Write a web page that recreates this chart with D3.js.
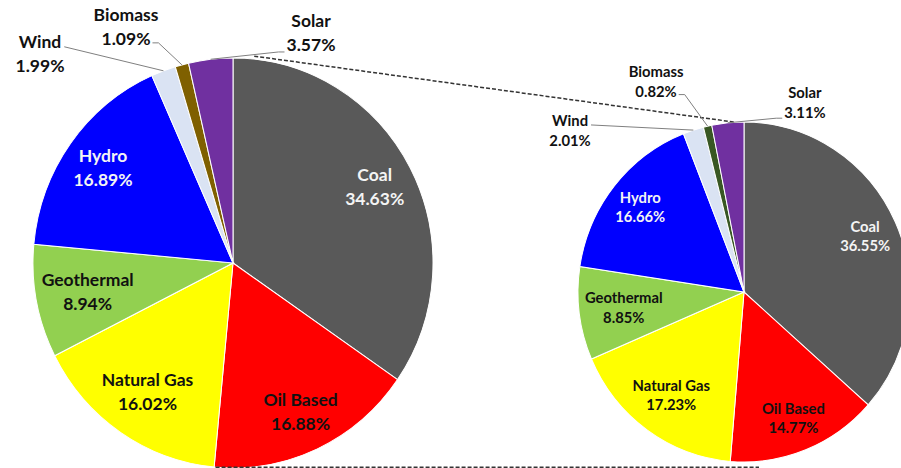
<!DOCTYPE html>
<html lang="en">
<head>
<meta charset="utf-8">
<title>Generation mix</title>
<style>
  body { margin: 0; background: #fff; }
  svg { display: block; font-family: Lato, "Open Sans", sans-serif; font-weight: 700; }
</style>
</head>
<body>
<svg id="chart" width="901" height="468"></svg>
<script src="https://cdnjs.cloudflare.com/ajax/libs/d3/7.8.5/d3.min.js"></script>
<script>
// data
const categories = ["Coal", "Oil Based", "Natural Gas", "Geothermal", "Hydro", "Wind", "Biomass", "Solar"];
const leftValues = [34.63, 16.88, 16.02, 8.94, 16.89, 1.99, 1.09, 3.57];
const rightValues = [36.55, 14.77, 17.23, 8.85, 16.66, 2.01, 0.82, 3.11];

const leftColors = ["#595959", "#ff0000", "#ffff00", "#92d050", "#0000ff", "#dae3f3", "#7f6000", "#7030a0"];
const rightColors = ["#595959", "#ff0000", "#ffff00", "#92d050", "#0000ff", "#dae3f3", "#385723", "#7030a0"];

const lightLabels = ["Coal", "Hydro"];
const leaderMode = {Wind: "right1", Biomass: "right2", Solar: "left2"};

// layout of the two pies
const pies = [
  {values: leftValues, colors: leftColors, cx: 233, cy: 263, rx: 200, ry: 205, font: 17.5, gap: 24,
   outside: {Wind: [-0.965, -1.02], Biomass: [-0.535, -1.151], Solar: [0.39, -1.122]}},
  {values: rightValues, colors: rightColors, cx: 744, cy: 292, rx: 166, ry: 170, font: 14.8, gap: 19.5,
   outside: {Wind: [-1.048, -0.947], Biomass: [-0.53, -1.235], Solar: [0.367, -1.112]}}
];

// dashed connectors: [left angle, left pad, right angle, right pad] (degrees)
const connectors = [[6, 3, -3, 0], [185, 0, 175, 6]];

const svg = d3.select("#chart");
const fmt = d3.format(".2f");
const pieGen = d3.pie().sort(null).value(d => d.value);

function edgePoint(p, a, pad) {
  return [p.cx + (p.rx + pad) * Math.sin(a), p.cy - (p.ry + pad) * Math.cos(a)];
}

// slices
pies.forEach(p => {
  p.data = categories.map((c, i) => ({name: c, value: p.values[i], color: p.colors[i]}));
  p.arcs = pieGen(p.data);
  const arc = d3.arc().innerRadius(0).outerRadius(p.rx);
  svg.append("g")
      .attr("transform", `translate(${p.cx},${p.cy}) scale(1,${p.ry / p.rx})`)
    .selectAll("path")
    .data(p.arcs)
    .join("path")
      .attr("d", arc)
      .attr("fill", d => d.data.color)
      .attr("stroke", "#fff")
      .attr("stroke-width", 1);
});

// dashed lines between the pies
const rad = Math.PI / 180;
connectors.forEach(c => {
  const a = edgePoint(pies[0], c[0] * rad, c[1]);
  const b = edgePoint(pies[1], c[2] * rad, c[3]);
  svg.append("line")
      .attr("x1", a[0]).attr("y1", a[1])
      .attr("x2", b[0]).attr("y2", b[1])
      .attr("stroke", "#333")
      .attr("stroke-width", 1.5)
      .attr("stroke-dasharray", "4,2");
});

const leaderLayer = svg.append("g");
const labelLayer = svg.append("g");

function fits(p, x, y, w, h) {
  const corners = [[x - w / 2, y - h / 2], [x + w / 2, y - h / 2], [x - w / 2, y + h / 2], [x + w / 2, y + h / 2]];
  return corners.every(([px, py]) => {
    const u = (px - p.cx) / (p.rx - 2), v = (py - p.cy) / (p.ry - 2);
    return u * u + v * v <= 1;
  });
}

// labels
pies.forEach(p => {
  p.arcs.forEach(d => {
    const name = d.data.name;
    const g = labelLayer.append("g")
        .attr("font-size", p.font)
        .attr("fill", lightLabels.includes(name) ? "#f4f4f4" : "#111")
        .attr("text-anchor", "middle");
    const t1 = g.append("text").attr("y", -p.gap / 2).attr("dy", "0.35em").text(name);
    const t2 = g.append("text").attr("y", p.gap / 2).attr("dy", "0.35em").text(fmt(d.data.value) + "%");
    const box = g.node().getBBox();
    const mid = (d.startAngle + d.endAngle) / 2;
    let x, y;
    if (p.outside[name]) {
      x = p.cx + p.outside[name][0] * p.rx;
      y = p.cy + p.outside[name][1] * p.ry;
    } else {
      let k = 0.81;
      do {
        x = p.cx + k * p.rx * Math.sin(mid);
        y = p.cy - k * p.ry * Math.cos(mid);
        k -= 0.01;
      } while (k > 0.4 && !fits(p, x, y, box.width, box.height));
    }
    g.attr("transform", `translate(${x},${y})`);

    const mode = leaderMode[name];
    if (!mode) return;
    const b1 = t1.node().getBBox(), b2 = t2.node().getBBox();
    const end = edgePoint(p, mid, 0);
    let pts;
    if (mode === "right1") {
      pts = [[x + b1.x + b1.width + 3, y + b1.y + b1.height * 0.75], end];
    } else if (mode === "right2") {
      const s = [x + b2.x + b2.width + 2, y + b2.y + b2.height * 0.7];
      pts = [s, [s[0] + 6, s[1]], end];
    } else {
      const s = [x + b2.x - 2, y + b2.y + b2.height * 0.85];
      pts = [s, [s[0] - 6, s[1]], end];
    }
    leaderLayer.append("path")
        .attr("d", d3.line()(pts))
        .attr("fill", "none")
        .attr("stroke", "#808080")
        .attr("stroke-width", 1);
  });
});
</script>
</body>
</html>
